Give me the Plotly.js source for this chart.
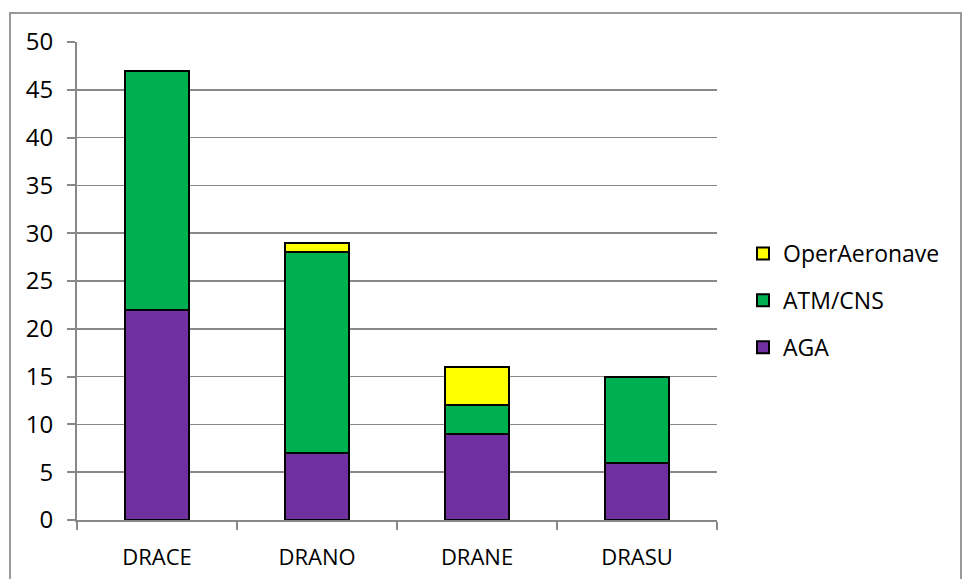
<!DOCTYPE html>
<html>
<head>
<meta charset="utf-8">
<script src="https://cdn.plot.ly/plotly-3.0.1.min.js"></script>
<style>html,body{margin:0;padding:0;background:#fff;}#chart{width:963px;height:579px;}</style>
</head>
<body>
<div id="chart"></div>
<script>
const categories = ["DRACE", "DRANO", "DRANE", "DRASU"];
const agaValues = [22, 7, 9, 6];
const atmValues = [25, 21, 3, 9];
const operValues = [0, 1, 4, 0];
const seriesNames = ["AGA", "ATM/CNS", "OperAeronave"];
const seriesColors = ["#7030A0", "#00B050", "#FFFF00"];
const yTicks = [0, 5, 10, 15, 20, 25, 30, 35, 40, 45, 50];

const seriesValues = [agaValues, atmValues, operValues];
const traces = seriesNames.map((n, i) => ({
  type: "bar",
  name: n,
  legendgroup: "g" + i,
  legendrank: 100 - i,
  x: categories,
  y: seriesValues[i],
  marker: {color: seriesColors[i], line: {color: "#000", width: 2}},
  width: 0.4
}));

const L = 77, R = 717, T = 42, B = 520, W = 963, H = 579;
const pw = R - L, ph = B - T;
const px = v => (v - L) / pw;
const py = v => (B - v) / ph;

const layout = {
  width: W, height: H,
  margin: {l: L, r: W - R, t: T, b: H - B, pad: 0},
  barmode: "stack",
  bargap: 0.6,
  paper_bgcolor: "#fff",
  plot_bgcolor: "#fff",
  font: {family: "Open Sans, sans-serif", size: 22, color: "#000"},
  showlegend: true,
  legend: {
    traceorder: "grouped",
    x: px(743), y: py(232), xanchor: "left", yanchor: "top",
    font: {size: 23},
    itemwidth: 30,
    tracegroupgap: 14,
    bgcolor: "rgba(0,0,0,0)"
  },
  xaxis: {
    type: "category",
    range: [-0.5, 3.5],
    showgrid: false,
    showline: true, linecolor: "#888", linewidth: 2,
    ticks: "outside", tickson: "boundaries", ticklen: 8, tickcolor: "#888", tickwidth: 2,
    ticklabelstandoff: 17,
    tickfont: {size: 22},
    fixedrange: true
  },
  yaxis: {
    range: [0, 50],
    tickvals: yTicks,
    ticktext: yTicks.map(String),
    showgrid: true, gridcolor: "#888", gridwidth: 1.5,
    zeroline: false,
    showline: true, linecolor: "#888", linewidth: 2,
    ticks: "outside", ticklen: 8, tickcolor: "#888", tickwidth: 2,
    ticklabelstandoff: 9,
    tickfont: {size: 24},
    fixedrange: true
  },
  shapes: [{
    type: "rect", xref: "paper", yref: "paper",
    x0: px(10), x1: px(961), y0: py(600), y1: py(13),
    line: {color: "#999", width: 2}, fillcolor: "rgba(0,0,0,0)", layer: "below"
  }]
};

Plotly.newPlot("chart", traces, layout, {displayModeBar: false, staticPlot: true});
</script>
</body>
</html>
